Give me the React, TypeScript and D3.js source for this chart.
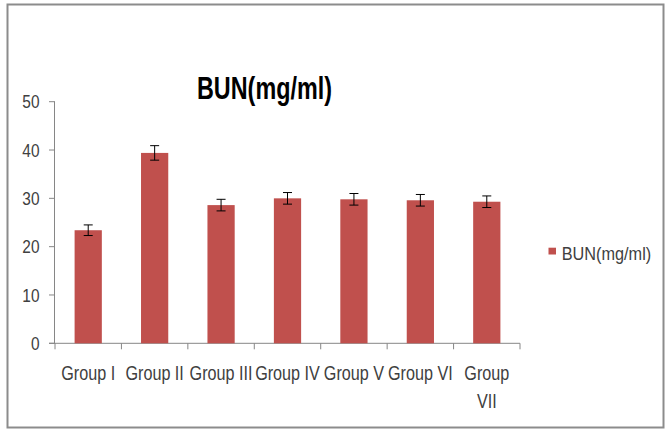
import React from "react";
import * as d3 from "d3";

const categories = ["Group I", "Group II", "Group III", "Group IV", "Group V", "Group VI", "Group VII"];
const values = [23.4, 39.4, 28.6, 30.0, 29.8, 29.6, 29.3];
const errors = [1.1, 1.5, 1.2, 1.2, 1.2, 1.2, 1.2];
const yTicks = [0, 10, 20, 30, 40, 50];
const seriesName = "BUN(mg/ml)";
const titleText = "BUN(mg/ml)";

const W = 665;
const H = 429;
const FONT = "'Liberation Sans', Arial, sans-serif";
const SX = 0.83;

export default function App() {
  const axisLeft = 55;
  const axisRight = 520;
  const x = d3.scaleBand<string>().domain(categories).range([axisLeft, axisRight]).paddingInner(0.59).paddingOuter(0.295);
  const y = d3.scaleLinear().domain([0, 50]).range([343.3, 101.7]);
  const tickEdges = d3.range(categories.length + 1).map((i) => axisLeft + ((axisRight - axisLeft) / categories.length) * i);
  const axisColor = "#868686";
  const textColor = "#404040";
  const labelLines = (c: string) => (c === "Group VII" ? ["Group", "VII"] : [c]);

  return (
    <div style={{ position: "absolute", left: 0, top: 0, width: W, height: H }}>
      <svg width={W} height={H} style={{ display: "block", background: "#fff" }}>
        <rect x={7.5} y={4.5} width={656} height={423} fill="#fff" stroke="#8c8c8c" strokeWidth={2} />
        <text x={264.5} y={99.3} textAnchor="middle" fontFamily={FONT} fontWeight="bold" fontSize={30.5} fill="#000" textLength={135} lengthAdjust="spacingAndGlyphs">
          {titleText}
        </text>
        {/* y axis */}
        <line x1={axisLeft - 0.5} x2={axisLeft - 0.5} y1={y(50)} y2={y(0)} stroke={axisColor} strokeWidth={1} />
        {yTicks.map((t) => (
          <g key={t}>
            <line x1={axisLeft - 6} x2={axisLeft} y1={y(t)} y2={y(t)} stroke={axisColor} strokeWidth={1} />
            <g transform={`translate(39.5,${y(t) + 6.6}) scale(${SX},1)`}>
              <text x={0} y={0} textAnchor="end" fontFamily={FONT} fontSize={18.6} fill={textColor}>
                {t}
              </text>
            </g>
          </g>
        ))}
        {/* x axis */}
        <line x1={axisLeft - 6} x2={axisRight} y1={y(0)} y2={y(0)} stroke={axisColor} strokeWidth={1} />
        {tickEdges.map((tx, i) => (
          <line key={i} x1={tx} x2={tx} y1={y(0)} y2={y(0) + 6} stroke={axisColor} strokeWidth={1} />
        ))}
        {/* bars */}
        {categories.map((c, i) => (
          <rect key={c} x={x(c)} y={y(values[i])} width={x.bandwidth()} height={y(0) - y(values[i])} fill="#C0504D" />
        ))}
        {/* error bars */}
        {categories.map((c, i) => {
          const cx = (x(c) as number) + x.bandwidth() / 2;
          const top = y(values[i] + errors[i]);
          const bot = y(values[i] - errors[i]);
          return (
            <g key={c} stroke="#000" strokeWidth={1}>
              <line x1={cx} x2={cx} y1={top} y2={bot} />
              <line x1={cx - 4.5} x2={cx + 4.5} y1={top} y2={top} />
              <line x1={cx - 4.5} x2={cx + 4.5} y1={bot} y2={bot} />
            </g>
          );
        })}
        {/* category labels */}
        {categories.map((c) => {
          const cx = (x(c) as number) + x.bandwidth() / 2;
          return (
            <g key={c} transform={`translate(${cx},380) scale(${SX},1)`}>
              <text x={0} y={0} textAnchor="middle" fontFamily={FONT} fontSize={19.5} fill={textColor}>
                {labelLines(c).map((ln, j) => (
                  <tspan key={j} x={0} dy={j === 0 ? 0 : 28.3}>
                    {ln}
                  </tspan>
                ))}
              </text>
            </g>
          );
        })}
        {/* legend */}
        <rect x={548.5} y={247.7} width={7.5} height={6.8} fill="#C0504D" />
        <text x={561.7} y={260} fontFamily={FONT} fontSize={17.7} fill={textColor} textLength={89.5} lengthAdjust="spacingAndGlyphs">
          {seriesName}
        </text>
      </svg>
    </div>
  );
}
